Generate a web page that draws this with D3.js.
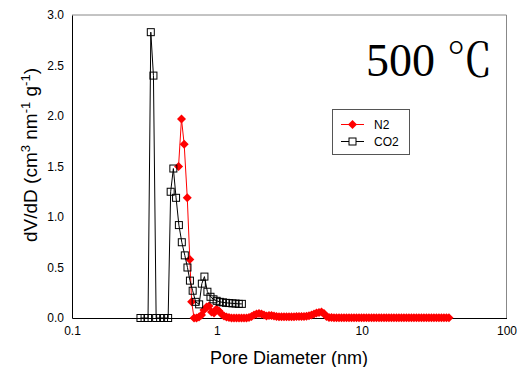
<!DOCTYPE html>
<html>
<head>
<meta charset="utf-8">
<script src="https://cdn.jsdelivr.net/npm/d3@7/dist/d3.min.js"></script>
<style>
  body { margin: 0; background: #fff; }
</style>
</head>
<body>
<svg id="chart" width="517" height="367" style="font-family: 'Liberation Sans', Arial, sans-serif"></svg>
<script>
// Pore size distribution at 500 ℃ — N2 and CO2 adsorption (DFT)
const n2Diameter = [
  0.544, 0.570, 0.595, 0.625, 0.651, 0.670, 0.696, 0.724, 0.753, 0.784,
  0.815, 0.849, 0.883, 0.919, 0.956, 0.995, 1.035, 1.077, 1.121, 1.166,
  1.213, 1.263, 1.314, 1.367, 1.423, 1.480, 1.540, 1.603, 1.668, 1.735,
  1.806, 1.879, 1.955, 2.034, 2.117, 2.203, 2.292, 2.385, 2.481, 2.582,
  2.687, 2.796, 2.909, 3.027, 3.150, 3.278, 3.411, 3.549, 3.693, 3.843,
  3.999, 4.161, 4.330, 4.506, 4.688, 4.879, 5.077, 5.282, 5.495, 5.719,
  5.950, 6.191, 6.442, 6.703, 6.975, 7.257, 7.551, 7.857, 8.175, 8.506,
  8.851, 9.210, 9.583, 9.971, 10.37, 10.79, 11.23, 11.69, 12.16, 12.65,
  13.17, 13.70, 14.26, 14.83, 15.43, 16.06, 16.71, 17.39, 18.09, 18.82,
  19.58, 20.38, 21.20, 22.06, 22.96, 23.89, 24.85, 25.86, 26.91, 28.00,
  29.13, 30.31, 31.54, 32.82, 34.15, 35.53, 36.97, 38.47, 40.03
];
const n2Volume = [
  1.50, 1.97, 1.72, 1.19, 0.58, 0.16, 0.00, 0.00, 0.01, 0.03,
  0.08, 0.11, 0.12, 0.06, 0.05, 0.09, 0.07, 0.04, 0.02, 0.01,
  0.005, 0.000, 0.000, 0.000, 0.000, 0.000, 0.000, 0.000, 0.005, 0.015,
  0.030, 0.040, 0.045, 0.040, 0.030, 0.020, 0.025, 0.025, 0.020, 0.015,
  0.013, 0.012, 0.012, 0.012, 0.012, 0.013, 0.013, 0.014, 0.014, 0.015,
  0.016, 0.018, 0.022, 0.030, 0.040, 0.050, 0.055, 0.060, 0.045, 0.015,
  0.005, 0.004, 0.003, 0.003, 0.003, 0.003, 0.003, 0.002, 0.002, 0.002,
  0.002, 0.002, 0.002, 0.002, 0.002, 0.002, 0.002, 0.002, 0.002, 0.002,
  0.002, 0.002, 0.002, 0.002, 0.002, 0.002, 0.002, 0.002, 0.002, 0.002,
  0.002, 0.002, 0.002, 0.002, 0.002, 0.002, 0.002, 0.002, 0.002, 0.002,
  0.002, 0.002, 0.002, 0.002, 0.002, 0.002, 0.002, 0.002, 0.002
];
const co2Diameter = [
  0.297, 0.317, 0.335, 0.350, 0.365, 0.381, 0.406, 0.432, 0.461, 0.480,
  0.501, 0.523, 0.547, 0.573, 0.601, 0.627, 0.652, 0.681, 0.714, 0.755,
  0.788, 0.821, 0.861, 0.904, 0.948, 0.997, 1.048, 1.102, 1.158, 1.218,
  1.282, 1.347, 1.418, 1.489
];
const co2Volume = [
  0.00, 0.00, 0.00, 2.83, 2.40, 0.00, 0.00, 0.00, 0.00, 1.25,
  1.48, 1.19, 0.92, 0.75, 0.62, 0.50, 0.37, 0.27, 0.16, 0.135,
  0.34, 0.41, 0.26, 0.21, 0.185, 0.17, 0.16, 0.155, 0.15, 0.148,
  0.145, 0.143, 0.14, 0.14
];
const xTicks = [0.1, 1, 10, 100];
const xTickLabels = ["0.1", "1", "10", "100"];
const yTicks = [0, 0.5, 1.0, 1.5, 2.0, 2.5, 3.0];
const seriesNames = ["N2", "CO2"];

const svg = d3.select("#chart");
const x = d3.scaleLog().domain([0.1, 100]).range([72, 506.5]);
const y = d3.scaleLinear().domain([0, 3]).range([318, 15]);

const n2 = n2Diameter.map((d, i) => [d, n2Volume[i]]);
const co2 = co2Diameter.map((d, i) => [d, co2Volume[i]]);

// frame: grey top/right edges
svg.append("line").attr("x1", x(0.1)).attr("x2", x(100)).attr("y1", y(3)).attr("y2", y(3))
  .attr("stroke", "#888").attr("stroke-width", 1);
svg.append("line").attr("x1", x(100)).attr("x2", x(100)).attr("y1", y(3)).attr("y2", y(0))
  .attr("stroke", "#888").attr("stroke-width", 1);

// axes
const xAxis = svg.append("g").attr("transform", `translate(0,${y(0)})`)
  .call(d3.axisBottom(x).tickValues(xTicks).tickSize(0).tickPadding(8)
    .tickFormat((d, i) => xTickLabels[i]));
const yAxis = svg.append("g").attr("transform", `translate(${x(0.1)},0)`)
  .call(d3.axisLeft(y).tickValues(yTicks).tickSize(0).tickPadding(8)
    .tickFormat(d3.format(".1f")));
[xAxis, yAxis].forEach(g => {
  g.attr("font-family", null);
  g.select(".domain").attr("stroke", "#000").attr("stroke-width", 1);
  g.selectAll("text").attr("font-size", 12).attr("fill", "#000");
});

// axis titles
svg.append("text").attr("x", 289).attr("y", 364).attr("text-anchor", "middle")
  .attr("font-size", 18).text("Pore Diameter (nm)");

const yTitle = svg.append("text")
  .attr("transform", "translate(37,155) rotate(-90)")
  .attr("text-anchor", "middle").attr("font-size", 19);
yTitle.append("tspan").text("dV/dD (cm");
yTitle.append("tspan").attr("baseline-shift", "super").attr("font-size", 13).text("3");
yTitle.append("tspan").text(" nm");
yTitle.append("tspan").attr("baseline-shift", "super").attr("font-size", 13).text("-1");
yTitle.append("tspan").text(" g");
yTitle.append("tspan").attr("baseline-shift", "super").attr("font-size", 13).text("-1");
yTitle.append("tspan").text(")");

// temperature label
svg.append("text").attr("x", 366).attr("y", 76)
  .style("font-family", "'Liberation Serif', 'Times New Roman', 'Noto Serif CJK SC', 'Noto Sans CJK SC', serif")
  .attr("font-size", 46).text("500 ℃");

const line = d3.line().x(d => x(d[0])).y(d => y(d[1]));
const diamond = r => `M0,${-r}L${r},0L0,${r}L${-r},0Z`;

// N2 series
svg.append("path").datum(n2).attr("d", line)
  .attr("fill", "none").attr("stroke", "#ff0000").attr("stroke-width", 1);
svg.append("g").selectAll("path").data(n2).join("path")
  .attr("transform", d => `translate(${x(d[0])},${y(d[1])})`)
  .attr("d", diamond(4.5)).attr("fill", "#ff0000");

// CO2 series
svg.append("path").datum(co2).attr("d", line)
  .attr("fill", "none").attr("stroke", "#000").attr("stroke-width", 1);
svg.append("g").selectAll("rect").data(co2).join("rect")
  .attr("x", d => x(d[0]) - 3.5).attr("y", d => y(d[1]) - 3.5)
  .attr("width", 7).attr("height", 7)
  .attr("fill", "none").attr("stroke", "#000").attr("stroke-width", 1);

// legend
const lg = svg.append("g");
lg.append("rect").attr("x", 332.5).attr("y", 109.5).attr("width", 77).attr("height", 45)
  .attr("fill", "#fff").attr("stroke", "#555").attr("stroke-width", 1);
const rows = [124.5, 141.5];
seriesNames.forEach((name, i) => {
  const yy = rows[i];
  lg.append("line").attr("x1", 341).attr("x2", 364).attr("y1", yy).attr("y2", yy)
    .attr("stroke", i === 0 ? "#ff0000" : "#000").attr("stroke-width", 1);
  if (i === 0) {
    lg.append("path").attr("transform", `translate(352.5,${yy})`)
      .attr("d", diamond(4.5)).attr("fill", "#ff0000");
  } else {
    lg.append("rect").attr("x", 349).attr("y", yy - 3.5).attr("width", 7).attr("height", 7)
      .attr("fill", "#fff").attr("stroke", "#000");
  }
  lg.append("text").attr("x", 374).attr("y", yy + 4.5).attr("font-size", 12).text(name);
});
</script>
</body>
</html>
